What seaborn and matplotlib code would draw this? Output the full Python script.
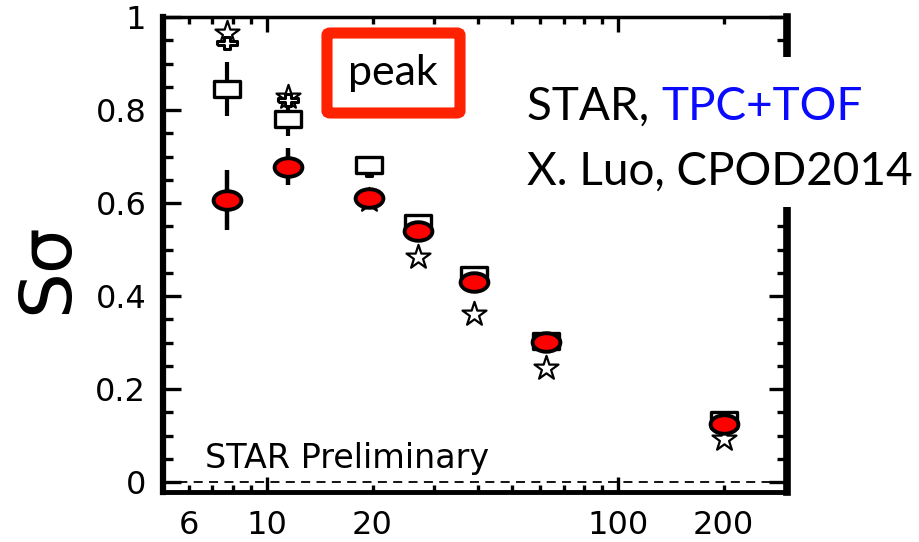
import numpy as np
import pandas as pd
import matplotlib
matplotlib.use("Agg")
import matplotlib.pyplot as plt
import seaborn as sns
from matplotlib.path import Path
from matplotlib.patches import Rectangle, FancyBboxPatch
from matplotlib.ticker import FixedLocator, MultipleLocator, NullFormatter

# Collision energies (GeV)
energy = [7.7, 11.5, 19.6, 27, 39, 62.4, 200]

# Net-proton S*sigma, measured (red points) with errors
data_ss = [0.606, 0.678, 0.611, 0.540, 0.431, 0.301, 0.124]
data_err = [0.065, 0.040, 0.020, 0.012, 0.012, 0.012, 0.010]

# Comparison series
square_ss = [0.845, 0.780, 0.682, 0.557, 0.446, 0.303, 0.133]
square_err = [0.058, 0.035, 0.012, 0.008, 0.008, 0.008, 0.006]
star_ss = [0.966, 0.828, 0.606, 0.484, 0.362, 0.245, 0.093]
cross_ss = [0.944, 0.822, 0.672, 0.552, 0.444, 0.300, 0.130]

x_ticks = [6, 10, 20, 100, 200]
x_ticklabels = ["6", "10", "20", "100", "200"]
y_ticks = [0, 0.2, 0.4, 0.6, 0.8, 1.0]
y_ticklabels = ["0", "0.2", "0.4", "0.6", "0.8", "1"]

df = pd.DataFrame({
    "energy": energy, "data": data_ss, "data_err": data_err,
    "square": square_ss, "square_err": square_err,
    "star": star_ss, "cross": cross_ss,
})

sns.set_theme(style="ticks")
plt.rcParams["font.family"] = ["DejaVu Sans"]
plt.rcParams["text.color"] = "black"
plt.rcParams["xtick.color"] = "black"
plt.rcParams["ytick.color"] = "black"

W, H = 919, 542
fig = plt.figure(figsize=(W / 100, H / 100), dpi=100)
ax = fig.add_axes([163 / W, 1 - 492 / H, (787 - 163) / W, (492 - 17) / H])


def fx(px):
    return px / W


def fy(py):
    return 1 - py / H


# Wide markers: ellipse, rectangle and plus
circ = Path.unit_circle()
ellipse = Path(circ.vertices * np.array([1.5, 1.0]), circ.codes)
rect = Path([(-1.5, -1.0), (1.5, -1.0), (1.5, 1.0), (-1.5, 1.0), (-1.5, -1.0)],
            [Path.MOVETO, Path.LINETO, Path.LINETO, Path.LINETO, Path.CLOSEPOLY])
plus = Path([(-1.5, -0.35), (-0.4, -0.35), (-0.4, -1.0), (0.4, -1.0), (0.4, -0.35),
             (1.5, -0.35), (1.5, 0.35), (0.4, 0.35), (0.4, 1.0), (-0.4, 1.0),
             (-0.4, 0.35), (-1.5, 0.35), (-1.5, -0.35)])

# zero reference line
ax.axhline(0, color="black", lw=1.3, ls=(0, (5, 3.5)), zorder=1)

# error bars
ax.errorbar(df["energy"], df["square"], yerr=df["square_err"], fmt="none",
            ecolor="black", elinewidth=3, capsize=0, zorder=2)
ax.errorbar(df["energy"], df["data"], yerr=df["data_err"], fmt="none",
            ecolor="black", elinewidth=3.2, capsize=0, zorder=5)

sns.scatterplot(data=df, x="energy", y="star", marker="*", s=330,
                color="white", edgecolor="black", linewidth=1.6, ax=ax, zorder=3)
sns.scatterplot(data=df, x="energy", y="cross", marker=plus, s=190,
                color="white", edgecolor="black", linewidth=2.2, ax=ax, zorder=3.5)
sns.scatterplot(data=df, x="energy", y="square", marker=rect, s=330,
                color="white", edgecolor="black", linewidth=2.4, ax=ax, zorder=4)
sns.scatterplot(data=df, x="energy", y="data", marker=ellipse, s=400,
                color="#ff0000", edgecolor="black", linewidth=2.8, ax=ax, zorder=6)

ax.set_xscale("log")
ax.set_xlim(5.06, 303)
ax.set_ylim(-0.0215, 1.0)

ax.xaxis.set_minor_locator(FixedLocator([7, 8, 9, 30, 40, 50, 60, 70, 80, 90]))
ax.xaxis.set_minor_formatter(NullFormatter())
ax.set_xticks(x_ticks)
ax.set_xticklabels(x_ticklabels)

ax.set_yticks(y_ticks)
ax.set_yticklabels(y_ticklabels)
ax.yaxis.set_minor_locator(MultipleLocator(0.05))

ax.tick_params(axis="both", which="both", direction="in", top=True, right=True,
               color="black", labelsize=23, labelcolor="black")
ax.tick_params(axis="y", which="major", length=13, width=2.4, pad=12)
ax.tick_params(axis="y", which="minor", length=7, width=2.4)
ax.tick_params(axis="x", which="major", length=11, width=2.4, pad=13)
ax.tick_params(axis="x", which="minor", length=5, width=2.4)
# only 10 and 100 get long ticks on the x axis
for t, v in zip(ax.xaxis.get_major_ticks(), x_ticks):
    if v not in (10, 100):
        t.tick1line.set_markersize(5)
        t.tick2line.set_markersize(5)

for side, lw in [("left", 4.5), ("bottom", 3.5), ("top", 2.5), ("right", 5.5)]:
    ax.spines[side].set_linewidth(lw)
    ax.spines[side].set_color("black")
    ax.spines[side].set_zorder(7)

ax.set_xlabel("")
ax.set_ylabel("")
ax.grid(False)

fig.text(fx(48), fy(268), "Sσ", rotation=90, fontsize=52, ha="center", va="center",
         color="black")

ax.text(0.068, 0.035, "STAR Preliminary", transform=ax.transAxes,
        fontsize=24, ha="left", va="bottom", color="black", zorder=8)

# white area behind the annotation block
fig.patches.append(Rectangle((fx(515), fy(207)), fx(915 - 515), fy(57) - fy(207),
                             transform=fig.transFigure, facecolor="white",
                             edgecolor="none", zorder=10))

# "peak" box
fig.patches.append(FancyBboxPatch((fx(327), fy(113)), fx(460 - 327), fy(33) - fy(113),
                                  boxstyle="round,pad=0,rounding_size=0.004",
                                  transform=fig.transFigure, facecolor="white",
                                  edgecolor="#ff2200", linewidth=8, zorder=10))
lato = ["Lato", "DejaVu Sans"]
fig.text(fx(393), fy(73), "peak", fontsize=31, ha="center", va="center",
         family=lato, color="black", zorder=11)

t1 = fig.text(fx(527), fy(120), "STAR, ", fontsize=33, ha="left", va="baseline",
              family=lato, color="black", zorder=11)
renderer = fig.canvas.get_renderer()
bb = t1.get_window_extent(renderer)
fig.text(bb.x1 / W, fy(120), "TPC+TOF", fontsize=33, ha="left", va="baseline",
         family=lato, color="#0a0aff", zorder=11)
fig.text(fx(527), fy(185), "X. Luo, CPOD2014", fontsize=33, ha="left", va="baseline",
         family=lato, color="black", zorder=11)

fig.savefig("out.png", dpi=100, facecolor="white")
